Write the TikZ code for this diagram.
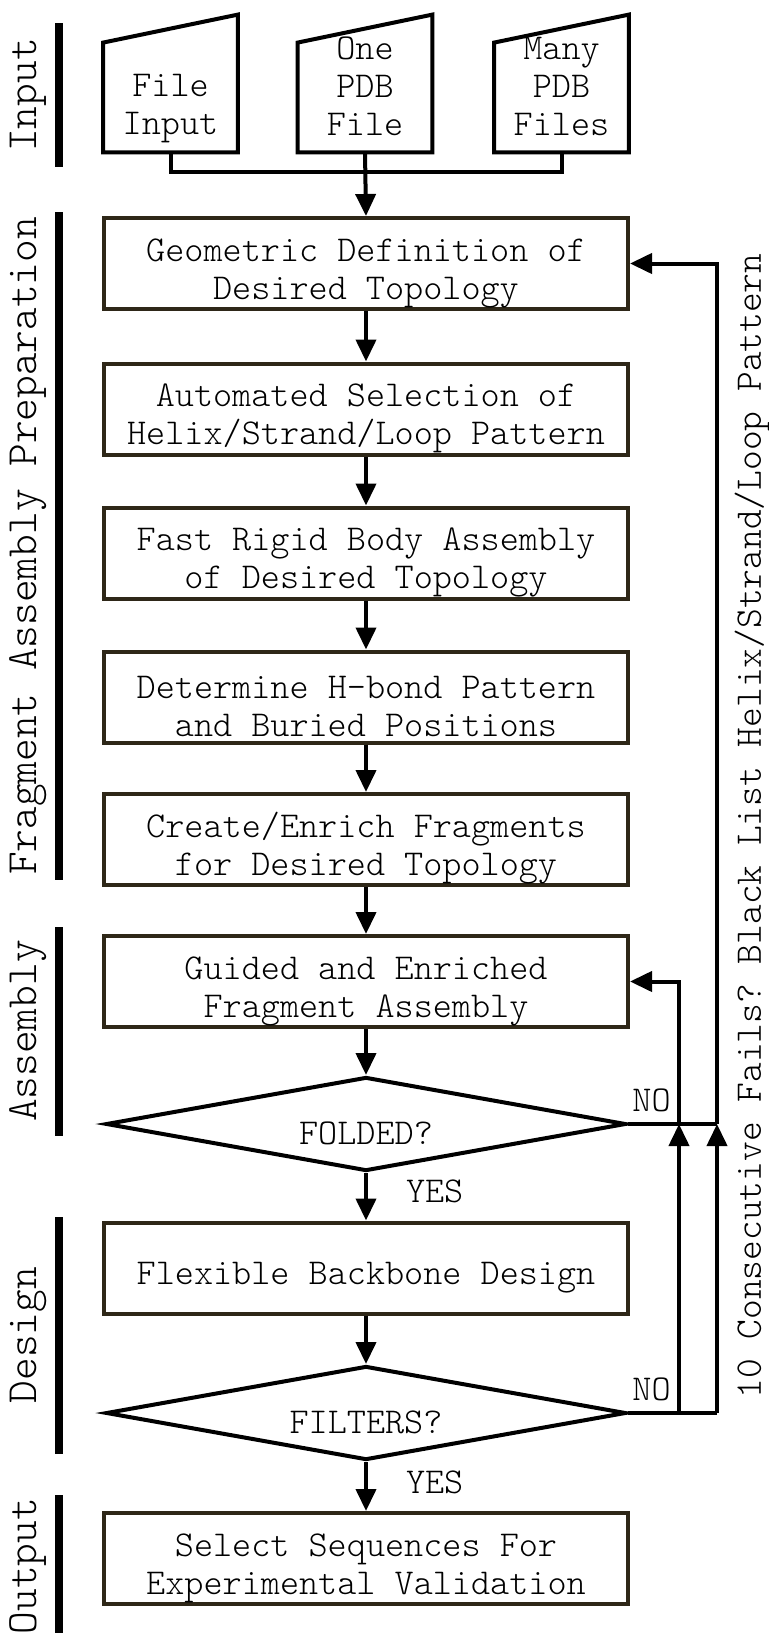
\documentclass[tikz,border=0pt]{standalone}
\usepackage{fontspec}
\setmonofont{Latin Modern Mono Light}
\usetikzlibrary{arrows.meta, shapes.geometric, calc}
\definecolor{boxbrown}{HTML}{2E2718}
\newcommand\flowfont{\ttfamily\fontsize{18.2}{19}\selectfont}
\newcommand\stagefont{\ttfamily\fontsize{21.6}{24}\selectfont}
\newcommand\notefont{\ttfamily\fontsize{18.8}{21}\selectfont}
\newcommand\topgap{\rule{0pt}{21pt}}

\tikzset{
  procbox/.style={draw=boxbrown, line width=2pt, fill=white, minimum width=262pt,
    minimum height=45.5pt, inner ysep=0pt, align=center, font=\flowfont},
  decision/.style={diamond, shape aspect=5, draw=black, line width=2pt, minimum width=260pt,
    minimum height=47pt, inner sep=0pt, font=\flowfont},
  inshape/.style={minimum width=67pt, minimum height=68.5pt, inner sep=0pt},
  intext/.style={align=center, font=\flowfont},
  flowline/.style={line width=2pt},
  sidebar/.style={line width=4pt},
  stagelabel/.style={rotate=90, font=\stagefont},
  answer/.style={font=\flowfont, inner sep=2pt},
}

\begin{document}
\begin{tikzpicture}[x=0.5pt, y=-0.5pt, >={Triangle[length=11pt, width=10pt]}]
\useasboundingbox (0,0) rectangle (769,1633);

% Input shapes (slanted top)
\node[inshape] (fin) at (170.5,83.5) {};
\node[inshape] (one) at (365,83.5) {};
\node[inshape] (many) at (561.5,83.5) {};
\foreach \n in {fin,one,many}
  \draw[flowline] (\n.south west) -- (\n.south east) -- (\n.north east)
    -- ($(\n.north west)+(0,28)$) -- cycle;
\node[intext] (fintxt) at (170.5,109) {File\\Input};
\node[intext] (onetxt) at (365,86) {One\\PDB\\File};
\node[intext] (manytxt) at (561.5,86) {Many\\PDB\\Files};

% Main column
\node[procbox] (geom) at (366,263.5) {\topgap Geometric Definition of\\Desired Topology};
\node[procbox] (autosel) at (366,409) {\topgap Automated Selection of\\Helix/Strand/Loop Pattern};
\node[procbox] (rigid) at (366,553) {\topgap Fast Rigid Body Assembly\\of Desired Topology};
\node[procbox] (hbond) at (366,697) {\topgap Determine H-bond Pattern\\and Buried Positions};
\node[procbox] (frag) at (366,839.5) {\topgap Create/Enrich Fragments\\for Desired Topology};
\node[procbox] (guided) at (366,981.5) {\topgap Guided and Enriched\\Fragment Assembly};
\node[decision] (fold) at (366,1124) {\topgap FOLDED?};
\node[procbox] (flex) at (366,1268) {\topgap Flexible Backbone Design};
\node[decision] (filt) at (366,1413) {\topgap FILTERS?};
\node[procbox] (select) at (366,1558.5) {\topgap Select Sequences For\\Experimental Validation};

% Input connectors
\draw[flowline] (fin.south) -- ++(0,20) -| (many.south);
\draw[flowline, ->] (one.south) -- (geom.north);

% Downward flow
\foreach \a/\b in {geom/autosel, autosel/rigid, rigid/hbond, hbond/frag,
                   frag/guided, guided/fold, flex/filt}
  \draw[flowline, ->] (\a.south) -- (\b.north);
\draw[flowline, ->] (fold.south) -- node[answer, right=17pt, yshift=2.5pt] (foldyes) {YES} (flex.north);
\draw[flowline, ->] (filt.south) -- node[answer, right=17pt, yshift=2pt] (filtyes) {YES} (select.north);

% Feedback loops
\coordinate (jA) at (679,1124);
\coordinate (jB) at (717,1124);
\coordinate (kA) at (679,1413);
\coordinate (kB) at (717,1413);
\node[answer, anchor=south west, yshift=4pt] (foldno) at (fold.east) {NO};
\node[answer, anchor=south west, yshift=4pt] (filtno) at (filt.east) {NO};
\draw[flowline] (fold.east) -- (jB);
\draw[flowline] (filt.east) -- (kB);
\draw[flowline, ->] (kA) -- (jA);
\draw[flowline, ->] (kB) -- (jB);
\draw[flowline, ->] (jA) |- (guided.east);
\draw[flowline, ->] (jB) |- (geom.east);
\node[rotate=90, font=\notefont] (failnote) at (752,826)
  {10 Consecutive Fails? Black List Helix/Strand/Loop Pattern};

% Stage labels
\draw[sidebar] (59,23) -- (59,167);
\node[stagelabel] (lbinput) at (28,95) {Input};
\draw[sidebar] (59,212) -- (59,880);
\node[stagelabel] (lbprep) at (28,546) {Fragment Assembly Preparation};
\draw[sidebar] (59,927) -- (59,1136);
\node[stagelabel] (lbassem) at (28,1031) {Assembly};
\draw[sidebar] (59,1217) -- (59,1454);
\node[stagelabel] (lbdesign) at (28,1335) {Design};
\draw[sidebar] (59,1495) -- (59,1633);
\node[stagelabel] (lboutput) at (28,1566) {Output};

\end{tikzpicture}
\end{document}
